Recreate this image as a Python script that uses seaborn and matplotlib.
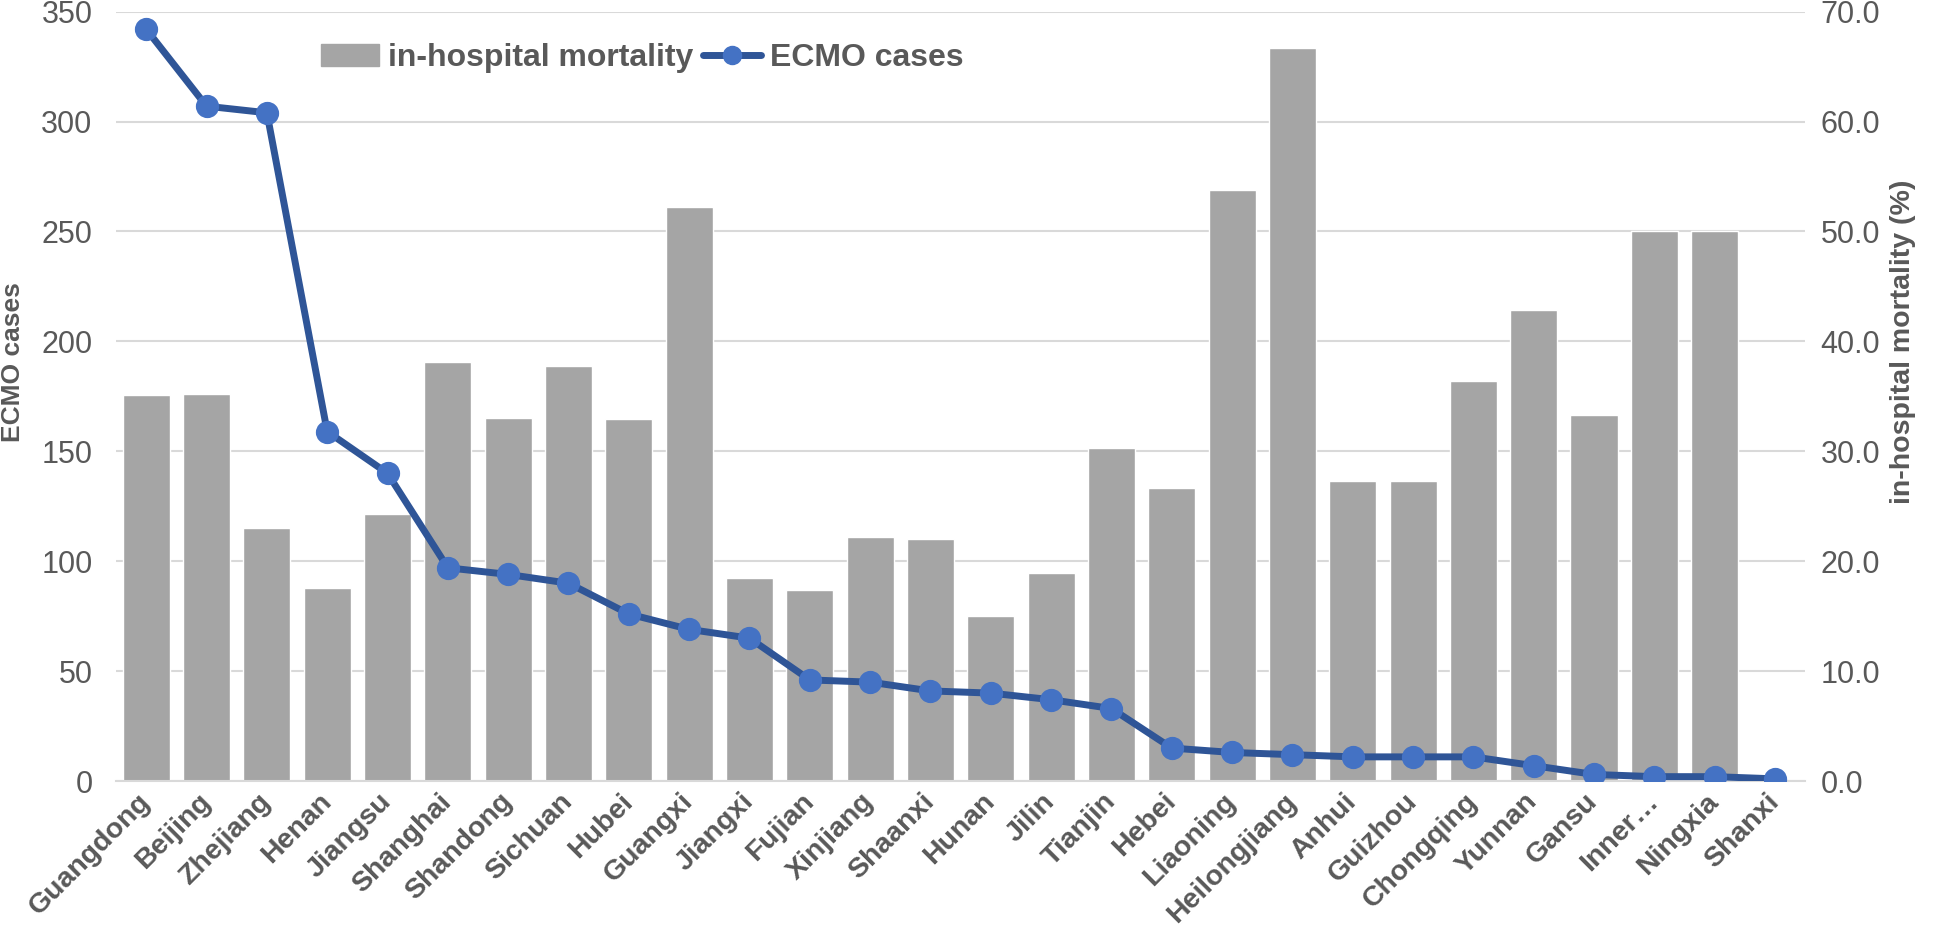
import numpy as np
import pandas as pd
import seaborn as sns
import matplotlib.pyplot as plt
from matplotlib.lines import Line2D
from matplotlib.patches import Patch

provinces = ["Guangdong", "Beijing", "Zhejiang", "Henan", "Jiangsu", "Shanghai",
             "Shandong", "Sichuan", "Hubei", "Guangxi", "Jiangxi", "Fujian",
             "Xinjiang", "Shaanxi", "Hunan", "Jilin", "Tianjin", "Hebei",
             "Liaoning", "Heilongjiang", "Anhui", "Guizhou", "Chongqing",
             "Yunnan", "Gansu", "Inner\u2026", "Ningxia", "Shanxi"]
ecmo_cases = [342, 307, 304, 159, 140, 97, 94, 90, 76, 69, 65, 46, 45, 41,
              40, 37, 33, 15, 13, 12, 11, 11, 11, 7, 3, 2, 2, 1]
mortality = [35.1, 35.2, 23.0, 17.6, 24.3, 38.1, 33.0, 37.8, 32.9, 52.2,
             18.5, 17.4, 22.2, 22.0, 15.0, 18.9, 30.3, 26.7, 53.8, 66.7,
             27.3, 27.3, 36.4, 42.9, 33.3, 50.0, 50.0, 0.0]

df = pd.DataFrame({"province": provinces, "cases": ecmo_cases, "mortality": mortality})

sns.set_style("white")
plt.rcParams["font.family"] = ["Liberation Sans", "DejaVu Sans"]
text_color = "#595959"
bar_color = "#A5A5A5"
line_color = "#2F5597"
marker_color = "#4472C4"

fig = plt.figure(figsize=(19.41, 9.40), dpi=100)
ax = fig.add_axes([0.0598, 0.1691, 0.8702, 0.8185])
ax2 = ax.twinx()

# bars on the right axis, drawn underneath the line
sns.barplot(data=df, x="province", y="mortality", ax=ax2, color=bar_color,
            width=0.78, saturation=1, order=provinces)
sns.pointplot(data=df, x="province", y="cases", ax=ax, order=provinces,
              color=line_color, errorbar=None, markers="o",
              markersize=13, markerfacecolor=marker_color,
              markeredgecolor=marker_color, linewidth=5)

ax.set_zorder(ax2.get_zorder() + 1)
ax.patch.set_visible(False)

ax.set_ylim(0, 350)
ax.set_yticks(range(0, 351, 50))
ax2.set_ylim(0, 70)
ax2.set_yticks(range(0, 71, 10))
ax2.set_yticklabels([f"{v:.1f}" for v in range(0, 71, 10)])
ax.set_xlim(-0.5, len(provinces) - 0.5)

ax2.set_axisbelow(True)
ax2.yaxis.grid(True, color="#D9D9D9", linewidth=1.5)
ax.grid(False)
for a in (ax, ax2):
    for s in a.spines.values():
        s.set_visible(False)
ax2.spines["bottom"].set_visible(True)
ax2.spines["bottom"].set_color("#D9D9D9")
ax2.spines["bottom"].set_linewidth(1.5)

ax.tick_params(axis="y", length=0, pad=17, labelsize=22, labelcolor=text_color)
ax2.tick_params(axis="y", length=0, pad=11, labelsize=22, labelcolor=text_color)
ax.tick_params(axis="x", length=0, pad=12)
ax2.tick_params(axis="x", length=0)
ax.set_xticks(range(len(provinces)))
ax.set_xticklabels(provinces, rotation=45, ha="right", va="center",
                   rotation_mode="anchor", fontsize=20.5, fontweight="bold",
                   color=text_color)
ax2.set_xlabel("")
ax.set_xlabel("")

ax.set_ylabel("ECMO cases", fontsize=19, fontweight="bold", color=text_color)
ax.yaxis.set_label_coords(-0.054, 0.545)
ax2.set_ylabel("in-hospital mortality (%)", fontsize=20.5, fontweight="bold",
               color=text_color, rotation=90)
ax2.yaxis.set_label_coords(1.05, 0.571)

handles = [Patch(facecolor=bar_color, edgecolor=bar_color),
           Line2D([0], [0], color=line_color, linewidth=5, marker="o",
                  markersize=13, markerfacecolor=marker_color,
                  markeredgecolor=marker_color)]
leg = fig.legend(handles, ["in-hospital mortality", "ECMO cases"], loc="center",
                 bbox_to_anchor=(0.331, 0.938), ncol=2, frameon=False,
                 prop={"size": 23, "weight": "bold"}, handlelength=1.8,
                 handletextpad=0.3, columnspacing=0.3)
for t in leg.get_texts():
    t.set_color(text_color)

fig.savefig("out.png", dpi=100)
